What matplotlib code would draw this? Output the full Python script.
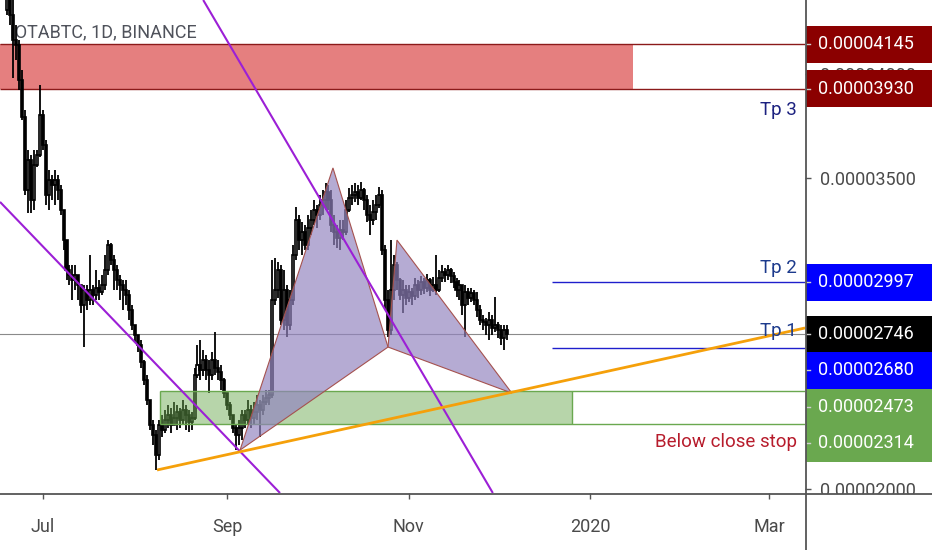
import matplotlib
matplotlib.use('Agg')
import matplotlib.pyplot as plt
import matplotlib.dates as mdates
import matplotlib.transforms as mtransforms
from matplotlib.patches import Rectangle, Polygon
from matplotlib.lines import Line2D
import numpy as np
import pandas as pd

# daily IOTABTC candles, prices in satoshi (1e-8 BTC)
first_open = 4311
closes = [4383, 4287, 4166, 4142, 3973, 3795, 3442, 3587, 3394, 3563,
          3611, 3804, 3660, 3418, 3491, 3467, 3491, 3442, 3346, 3201,
          3057, 3032, 3008, 3032, 2984, 2888, 2960, 2912, 2960, 2936,
          2970, 2950, 2984, 3057, 3177, 3105, 3057, 3008, 2984, 2960,
          2936, 2863, 2791, 2743, 2695, 2613, 2526, 2429, 2309, 2261,
          2164, 2309, 2285, 2333, 2357, 2309, 2343, 2372, 2333, 2381,
          2357, 2323, 2343, 2550, 2598, 2574, 2622, 2574, 2550, 2622,
          2584, 2565, 2526, 2463, 2405, 2357, 2294, 2261, 2294, 2357,
          2333, 2381, 2343, 2372, 2405, 2381, 2420, 2439, 2454, 2912,
          2960, 3057, 2815, 2960, 2791, 2912, 3129, 3298, 3201, 3240,
          3177, 3259, 3298, 3346, 3322, 3370, 3394, 3433, 3394, 3274,
          3240, 3211, 3249, 3240, 3346, 3404, 3418, 3433, 3404, 3442,
          3394, 3322, 3298, 3336, 3370, 3418, 3153, 2912, 2766, 2960,
          3081, 3008, 2936, 2960, 2921, 2950, 2931, 2984, 2960, 2999,
          2970, 3008, 2960, 2984, 2960, 3018, 3047, 3032, 3057, 3028,
          2999, 2960, 2984, 2888, 2950, 2921, 2946, 2912, 2863, 2815,
          2806, 2791, 2815, 2777, 2791, 2766, 2728, 2766, 2746]
highs = [4455, 4480, 4359, 4238, 4166, 4021, 3828, 3635, 3611, 3635,
         3635, 3949, 3828, 3684, 3539, 3515, 3539, 3515, 3467, 3346,
         3177, 3081, 3081, 3081, 3032, 2984, 2984, 2984, 3129, 2984,
         3057, 3008, 3032, 3129, 3201, 3187, 3129, 3081, 3032, 3008,
         3008, 2960, 2888, 2791, 2743, 2719, 2622, 2550, 2429, 2333,
         2285, 2333, 2357, 2381, 2405, 2391, 2420, 2405, 2391, 2429,
         2405, 2381, 2372, 2584, 2695, 2719, 2671, 2646, 2622, 2661,
         2757, 2622, 2598, 2536, 2463, 2420, 2357, 2309, 2333, 2381,
         2381, 2429, 2405, 2420, 2454, 2429, 2454, 2478, 2478, 3105,
         3114, 3095, 3081, 3057, 2984, 2960, 3177, 3360, 3322, 3288,
         3274, 3322, 3346, 3394, 3370, 3418, 3442, 3476, 3467, 3442,
         3322, 3274, 3298, 3298, 3394, 3452, 3467, 3476, 3467, 3481,
         3452, 3418, 3370, 3394, 3418, 3457, 3442, 3177, 2960, 3201,
         3129, 3095, 3018, 3008, 2984, 2984, 2970, 3018, 3008, 3028,
         3018, 3037, 3018, 3023, 3129, 3057, 3081, 3066, 3081, 3066,
         3047, 3018, 3008, 2984, 2984, 2970, 2970, 2960, 2950, 2888,
         2839, 2825, 2854, 2839, 2926, 2806, 2791, 2791, 2791]
lows = [4287, 4238, 3983, 4070, 3925, 3780, 3418, 3332, 3332, 3346,
        3553, 3602, 3635, 3370, 3346, 3394, 3370, 3394, 3322, 3153,
        3008, 2984, 2912, 2960, 2912, 2849, 2685, 2863, 2888, 2888,
        2912, 2912, 2936, 2960, 3032, 3081, 2960, 2960, 2912, 2863,
        2888, 2815, 2766, 2709, 2661, 2584, 2502, 2405, 2285, 2212,
        2092, 2140, 2251, 2270, 2294, 2270, 2309, 2285, 2294, 2309,
        2285, 2275, 2285, 2333, 2536, 2526, 2545, 2526, 2463, 2526,
        2550, 2526, 2478, 2439, 2381, 2333, 2270, 2188, 2212, 2236,
        2294, 2309, 2294, 2309, 2333, 2251, 2357, 2405, 2405, 2439,
        2888, 2921, 2791, 2766, 2733, 2766, 2888, 3105, 3153, 3129,
        3153, 3153, 3225, 3274, 3259, 3298, 3322, 3346, 3346, 3240,
        3177, 3163, 3153, 3201, 3225, 3336, 3370, 3385, 3370, 3394,
        3346, 3288, 3225, 3274, 3298, 3356, 3129, 2863, 2733, 2743,
        2912, 2960, 2912, 2849, 2888, 2902, 2888, 2912, 2921, 2936,
        2941, 2950, 2931, 2950, 2936, 2950, 2999, 2999, 3008, 2994,
        2970, 2926, 2912, 2839, 2733, 2888, 2902, 2888, 2830, 2791,
        2766, 2743, 2719, 2743, 2757, 2728, 2695, 2671, 2719]
start_date = '2019-06-19'

# drawings on the chart
sell_zone = (4145, 3930)
buy_zone = (2473, 2314)
tp2_price = 2997
tp1_price = 2680
last_price = 2746
harmonic_dates = ['2019-09-05 07:00', '2019-10-06 12:00', '2019-10-25 00:00',
                  '2019-10-28 00:00', '2019-12-05 14:00']
harmonic_prices = [2188, 3549, 2685, 3201, 2463]
channel_a_dates = ['2019-08-23 22:00', '2019-11-29 05:00']
channel_a_prices = [4359, 1981]
channel_b_dates = ['2019-06-16 16:00', '2019-09-18 17:00']
channel_b_prices = [3385, 1981]
support_dates = ['2019-08-08 10:00', '2020-03-13 02:00']
support_prices = [2092, 2777]

price_labels = [4145, 3930, 2997, 2746, 2680, 2473, 2314]
label_colors = ['#8b0000', '#8b0000', '#0000ff', '#000000', '#0000ff', '#6aa84f', '#6aa84f']
label_shift = [0, 0, 0, 0, -106, -78, -92]   # pushed down so boxes do not overlap
axis_ticks = [2000, 3500, 4000]              # others sit behind the label boxes

month_ticks = ['2019-07-01', '2019-09-01', '2019-11-01', '2020-01-01', '2020-03-01']
month_labels = ['Jul', 'Sep', 'Nov', '2020', 'Mar']

plt.rcParams['font.family'] = ['Roboto', 'DejaVu Sans']

S = 1e-8
fig = plt.figure(figsize=(9.32, 5.5), dpi=100)
W, H = 932, 550
ax = fig.add_axes([0, 57 / H, 805 / W, 493 / H])

dates = pd.date_range(start_date, periods=len(closes), freq='D')
x = mdates.date2num(dates)
c = np.array(closes) * S
o = np.r_[first_open, closes[:-1]] * S
hi = np.maximum(np.array(highs) * S, np.maximum(o, c))
lo = np.minimum(np.array(lows) * S, np.minimum(o, c))
up = c >= o

ax.vlines(x, lo, hi, color='black', lw=1.3, zorder=3)
ax.bar(x, np.maximum(np.abs(c - o), 3 * S), bottom=np.minimum(o, c), width=0.68,
       color=np.where(up, 'white', 'black'), edgecolor='black', linewidth=1.2, zorder=4)

x0 = mdates.date2num(pd.Timestamp('2019-07-01')) - 14.34
x1 = mdates.date2num(pd.Timestamp('2019-07-01')) + 256.06

# zones
red_end = mdates.date2num(pd.Timestamp('2020-01-15 07:00'))
ax.add_patch(Rectangle((x0 - 5, sell_zone[1] * S), red_end - x0 + 5, (sell_zone[0] - sell_zone[1]) * S,
                       facecolor='#cc0000', alpha=0.5, edgecolor='none', zorder=1))
ax.hlines([v * S for v in sell_zone], x0, x1, color='#8b1a1a', lw=1.0, zorder=2)
g0 = mdates.date2num(pd.Timestamp('2019-08-09 10:00'))
g1 = mdates.date2num(pd.Timestamp('2019-12-25 19:00'))
ax.add_patch(Rectangle((g0, buy_zone[1] * S), g1 - g0, (buy_zone[0] - buy_zone[1]) * S,
                       facecolor='#6aa84f', alpha=0.48, edgecolor='none', zorder=5))
ax.hlines([v * S for v in buy_zone], g0, x1, color='#6aa84f', lw=1.0, zorder=5)
ax.vlines([g0, g1], buy_zone[1] * S, buy_zone[0] * S, color='#6aa84f', lw=1.0, zorder=5)

tp0 = mdates.date2num(pd.Timestamp('2019-12-19 02:00'))
ax.hlines([tp2_price * S, tp1_price * S], tp0, x1, color='#1f1fcc', lw=1.0, zorder=5)
ax.axhline(last_price * S, color='#8a8a8a', lw=0.8, zorder=2)

# harmonic pattern
hx = mdates.date2num(pd.to_datetime(harmonic_dates))
hy = np.array(harmonic_prices) * S
for idx in ([0, 1, 2], [2, 3, 4]):
    ax.add_patch(Polygon(np.c_[hx[idx], hy[idx]], closed=True, facecolor='#9283bf',
                         alpha=0.68, edgecolor='none', zorder=6))
    ax.add_patch(Polygon(np.c_[hx[idx], hy[idx]], closed=True, facecolor='none',
                         edgecolor='#a5524f', lw=0.8, zorder=6))

# trend lines
for d, p, col, lw in [(channel_a_dates, channel_a_prices, '#9c1fd6', 1.5),
                      (channel_b_dates, channel_b_prices, '#9c1fd6', 1.5),
                      (support_dates, support_prices, '#f5a00a', 2.0)]:
    ax.plot(mdates.date2num(pd.to_datetime(d)), np.array(p) * S, color=col, lw=lw, zorder=7,
            solid_capstyle='butt')

# texts
ax.text(10 / 805, 1 - 32 / 493, 'IOTABTC, 1D, BINANCE', transform=ax.transAxes,
        fontsize=13, color='#4f525b', va='center', ha='left', zorder=2)
tb = mtransforms.blended_transform_factory(ax.transAxes, ax.transData)
for txt, price, dy, col in [('Tp 3', 3930, -15, '#1c2180'), ('Tp 2', tp2_price, 10, '#1c3a8c'),
                            ('Tp 1', tp1_price, 12, '#1c3a8c'),
                            ('Below close stop', 2314, -13, '#b71c2c')]:
    ax.annotate(txt, xy=(797 / 805, price * S), xycoords=tb, xytext=(0, dy),
                textcoords='offset points', ha='right', va='center', fontsize=13.5,
                color=col, zorder=8)

# price axis
ax.yaxis.tick_right()
ax.set_yticks(np.array(axis_ticks) * S)
ax.yaxis.set_major_formatter(plt.FuncFormatter(lambda v, p: f'{v:.8f}'))
ax.tick_params(axis='y', length=4, width=1, color='#555555', labelcolor='#4a4a4a',
               labelsize=13, pad=7)
ax.set_xticks(mdates.date2num(pd.to_datetime(month_ticks)))
ax.set_xticklabels(month_labels)
ax.tick_params(axis='x', length=4, width=1, color='#555555', labelcolor='#4a4a4a',
               labelsize=13, pad=14)
for s in ax.spines.values():
    s.set_visible(False)
ax.set_xlim(x0, x1)
ax.set_ylim(1981 * S, 4359 * S)

fb = mtransforms.blended_transform_factory(fig.transFigure, ax.transData)
box_h = 37 / 493 * (4359 - 1981) * S
for val, col, sh in zip(price_labels, label_colors, label_shift):
    yc = (val + sh) * S
    ax.add_patch(Rectangle((806 / W, yc - box_h / 2), 126 / W, box_h, transform=fb,
                           facecolor=col, edgecolor='none', clip_on=False, zorder=10))
    ax.plot([806 / W, 810 / W], [yc, yc], transform=fb, color='#d0d0d0', lw=1,
            clip_on=False, zorder=11)
    ax.text(818 / W, yc, f'{val * S:.8f}', transform=fb, color='white', fontsize=13,
            va='center', ha='left', clip_on=False, zorder=11)

# cover below price axis, frame lines
fig.add_artist(Rectangle((805 / W, 0), 127 / W, 56 / H, transform=fig.transFigure,
                         facecolor='white', edgecolor='none', zorder=20))
fig.add_artist(Line2D([0, 1], [56.5 / H, 56.5 / H], color='#555555', lw=1.3, zorder=21))
fig.add_artist(Line2D([805.5 / W, 805.5 / W], [0, 1], color='#555555', lw=1.3, zorder=21))

fig.savefig('out.png', dpi=100, facecolor='white')
